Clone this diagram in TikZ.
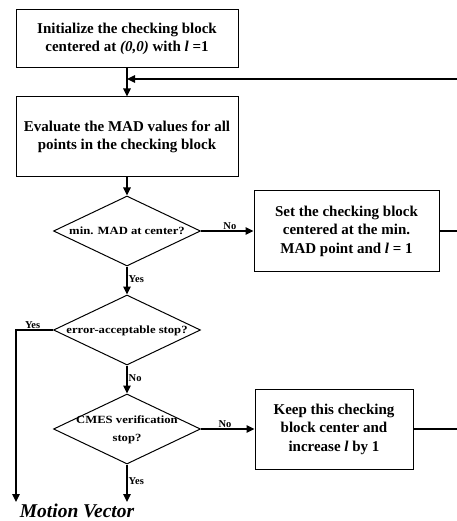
\documentclass[tikz,border=0pt]{standalone}
\usepackage{fontspec}
\setmainfont{Liberation Serif}
\usetikzlibrary{shapes.geometric,arrows.meta}
\newcommand{\wide}[1]{\scalebox{1.15}[1]{\begin{tabular}{@{}c@{}}#1\end{tabular}}}
\tikzset{
  box/.style={draw,line width=1pt,inner sep=0pt,align=center,font=\fontsize{15}{18.5}\selectfont\bfseries},
  dia/.style={draw,line width=1pt,shape=diamond,inner sep=0pt,minimum width=147pt,minimum height=70pt},
  diatext/.style={inner sep=0pt,font=\fontsize{11}{18}\selectfont\bfseries},
  lab/.style={inner sep=1pt,font=\fontsize{10.5}{12}\selectfont\bfseries},
  conn/.style={line width=1.4pt},
  arr/.style={conn,-{Triangle[length=8pt,width=7.5pt]}}
}
\begin{document}
\begin{tikzpicture}[x=1pt,y=-1pt]
\useasboundingbox (0,0) rectangle (456,521);
% boxes
\node[box,minimum width=222pt,minimum height=58pt] (b1) at (127,39) {Initialize the checking block\\centered at \textit{(0,0)} with \textit{l} =1};
\node[box,minimum width=222pt,minimum height=80pt] (b2) at (127,137) {Evaluate the MAD values for all\\points in the checking block};
\node[box,minimum width=185pt,minimum height=80pt] (b3) at (346.5,231) {Set the checking block\\centered at the min.\\MAD point and \textit{l} = 1};
\node[box,minimum width=158pt,minimum height=80pt] (b4) at (334,429) {Keep this checking\\block center and\\increase \textit{l} by 1};
% diamonds
\node[dia] (d1) at (127,231) {};
\node[diatext] (t1) at (d1.center) {\wide{min. MAD at center?}};
\node[dia] (d2) at (127,330) {};
\node[diatext] (t2) at (d2.center) {\wide{error-acceptable stop?}};
\node[dia] (d3) at (127,429) {};
\node[diatext] (t3) at (d3.center) {\wide{CMES verification\\stop?}};
% output
\node[inner sep=0pt,font=\fontsize{19.5}{22}\selectfont\bfseries\itshape] (mv) at (77,511) {Motion Vector};
% coordinates
\coordinate (e1) at (127,502);
\coordinate (yl) at (16,330);
\coordinate (e2) at (16,502);
\coordinate (r1) at (458,231);
\coordinate (r2) at (458,429);
\coordinate (r0) at (458,79);
\coordinate (j) at (127,79);
% connectors
\draw[arr] (b1.south) -- (b2.north);
\draw[arr] (b2.south) -- (d1.north);
\draw[arr] (d1.east) -- node[lab,above,pos=0.55] {No} (b3.west);
\draw[arr] (d1.south) -- node[lab,right,pos=0.45] {Yes} (d2.north);
\draw[arr] (d2.south) -- node[lab,right,pos=0.45] {No} (d3.north);
\draw[arr] (d3.east) -- node[lab,above,pos=0.45] {No} (b4.west);
\draw[arr] (d3.south) -- node[lab,right,pos=0.45] {Yes} (e1);
\draw[arr] (d2.west) -- node[lab,above,pos=0.55] {Yes} (yl) -- (e2);
\draw[conn] (b3.east) -- (r1);
\draw[conn] (b4.east) -- (r2);
\draw[conn] (r2) -- (r0);
\draw[arr] (r0) -- (j);
\end{tikzpicture}
\end{document}
